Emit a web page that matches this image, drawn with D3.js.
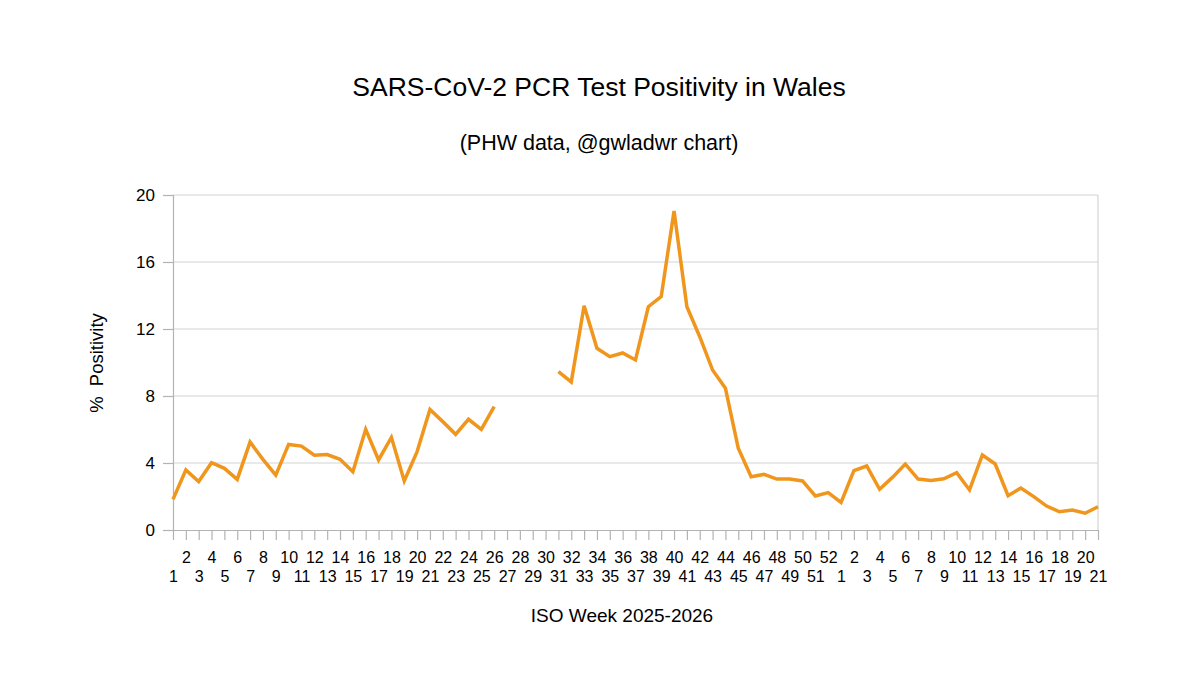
<!DOCTYPE html>
<html>
<head>
<meta charset="utf-8">
<script src="https://cdn.jsdelivr.net/npm/d3@7"></script>
<style>
  body { margin: 0; background: #fff; }
  svg { display: block; font-family: "Liberation Sans", Arial, sans-serif; }
</style>
</head>
<body>
<svg id="chart" width="1200" height="691"></svg>
<script>
// ISO week labels, 2025 week 1 .. 2026 week 21
const weeks2025 = d3.range(1, 53);
const weeks2026 = d3.range(1, 22);
const weekLabels = weeks2025.concat(weeks2026).map(String);

// % positivity per week (null = no data)
const positivity2025 = [
  1.83, 3.58, 2.89, 4.02, 3.68, 3.02, 5.25, 4.22, 3.28, 5.11,
  5.01, 4.46, 4.50, 4.22, 3.48, 6.01, 4.18, 5.53, 2.93, 4.68,
  7.20, 6.47, 5.71, 6.61, 6.01, 7.36, null, null, null, null,
  9.45, 8.84, 13.39, 10.85, 10.35, 10.57, 10.15, 13.33, 13.93, 19.04,
  13.33, 11.54, 9.55, 8.46, 4.88, 3.18, 3.32, 3.04, 3.04, 2.93,
  2.03, 2.23
];
const positivity2026 = [
  1.65, 3.54, 3.82, 2.43, 3.14, 3.94, 3.04, 2.95, 3.06, 3.42,
  2.39, 4.48, 3.94, 2.05, 2.51, 1.99, 1.43, 1.09, 1.19, 1.00,
  1.39
];
const positivity = positivity2025.concat(positivity2026);

const yTicks = [0, 4, 8, 12, 16, 20];

(function() {
  let svg = d3.select('#chart');

  let left = 173, right = 1098, top = 195, bottom = 530;
  let idx = d3.range(weekLabels.length);

  let xScale = d3.scalePoint()
    .domain(idx)
    .range([left, right]);
  let yScale = d3.scaleLinear()
    .domain([0, 20])
    .range([bottom, top]);

  // gridlines
  svg.append('g')
    .selectAll('line')
    .data(yTicks.filter((d) => d > 0))
    .join('line')
      .attr('x1', left)
      .attr('x2', right)
      .attr('y1', (d) => yScale(d))
      .attr('y2', (d) => yScale(d))
      .attr('stroke', '#d4d4d4')
      .attr('stroke-width', 1.2);

  // right border
  svg.append('line')
    .attr('x1', right).attr('x2', right)
    .attr('y1', top).attr('y2', bottom)
    .attr('stroke', '#d4d4d4')
    .attr('stroke-width', 1.2);

  // y axis
  let yAxis = svg.append('g')
    .attr('transform', `translate(${left}, 0)`)
    .call(d3.axisLeft(yScale).tickValues(yTicks).tickSize(10).tickPadding(8));
  yAxis.select('.domain').attr('stroke', '#b3b3b3').attr('stroke-width', 1.2);
  yAxis.selectAll('.tick line').attr('stroke', '#b3b3b3').attr('stroke-width', 1.2);
  yAxis.selectAll('.tick text')
    .attr('font-size', '17px')
    .attr('font-family', '"Liberation Sans", Arial, sans-serif')
    .attr('fill', '#000');

  // x axis, labels alternate between two rows
  let xAxis = svg.append('g')
    .attr('transform', `translate(0, ${bottom})`)
    .call(d3.axisBottom(xScale).tickSize(10).tickSizeOuter(0).tickFormat((i) => weekLabels[i]));
  xAxis.select('.domain').attr('stroke', '#b3b3b3').attr('stroke-width', 1.2);
  xAxis.selectAll('.tick line').attr('stroke', '#b3b3b3').attr('stroke-width', 1.2);
  xAxis.selectAll('.tick text')
    .attr('font-size', '16px')
    .attr('font-family', '"Liberation Sans", Arial, sans-serif')
    .attr('fill', '#000')
    .attr('dy', null)
    .attr('y', (i) => i % 2 === 1 ? 33 : 52);

  // data line
  let line = d3.line()
    .defined((d) => d != null)
    .x((d, i) => xScale(i))
    .y((d) => yScale(d));

  svg.append('path')
    .datum(positivity)
    .attr('fill', 'none')
    .attr('stroke', '#f0961c')
    .attr('stroke-width', 3.5)
    .attr('stroke-linejoin', 'miter')
    .attr('d', line);

  // titles
  svg.append('text')
    .attr('x', 599)
    .attr('y', 96)
    .attr('text-anchor', 'middle')
    .attr('font-size', '26.5px')
    .text('SARS-CoV-2 PCR Test Positivity in Wales');

  svg.append('text')
    .attr('x', 599)
    .attr('y', 150)
    .attr('text-anchor', 'middle')
    .attr('font-size', '21.5px')
    .text('(PHW data, @gwladwr chart)');

  svg.append('text')
    .attr('transform', `translate(103, 363) rotate(-90)`)
    .attr('text-anchor', 'middle')
    .attr('font-size', '18.5px')
    .attr('xml:space', 'preserve')
    .style('white-space', 'pre')
    .text('%  Positivity');

  svg.append('text')
    .attr('x', 622)
    .attr('y', 622)
    .attr('text-anchor', 'middle')
    .attr('font-size', '19px')
    .text('ISO Week 2025-2026');
})();
</script>
</body>
</html>
